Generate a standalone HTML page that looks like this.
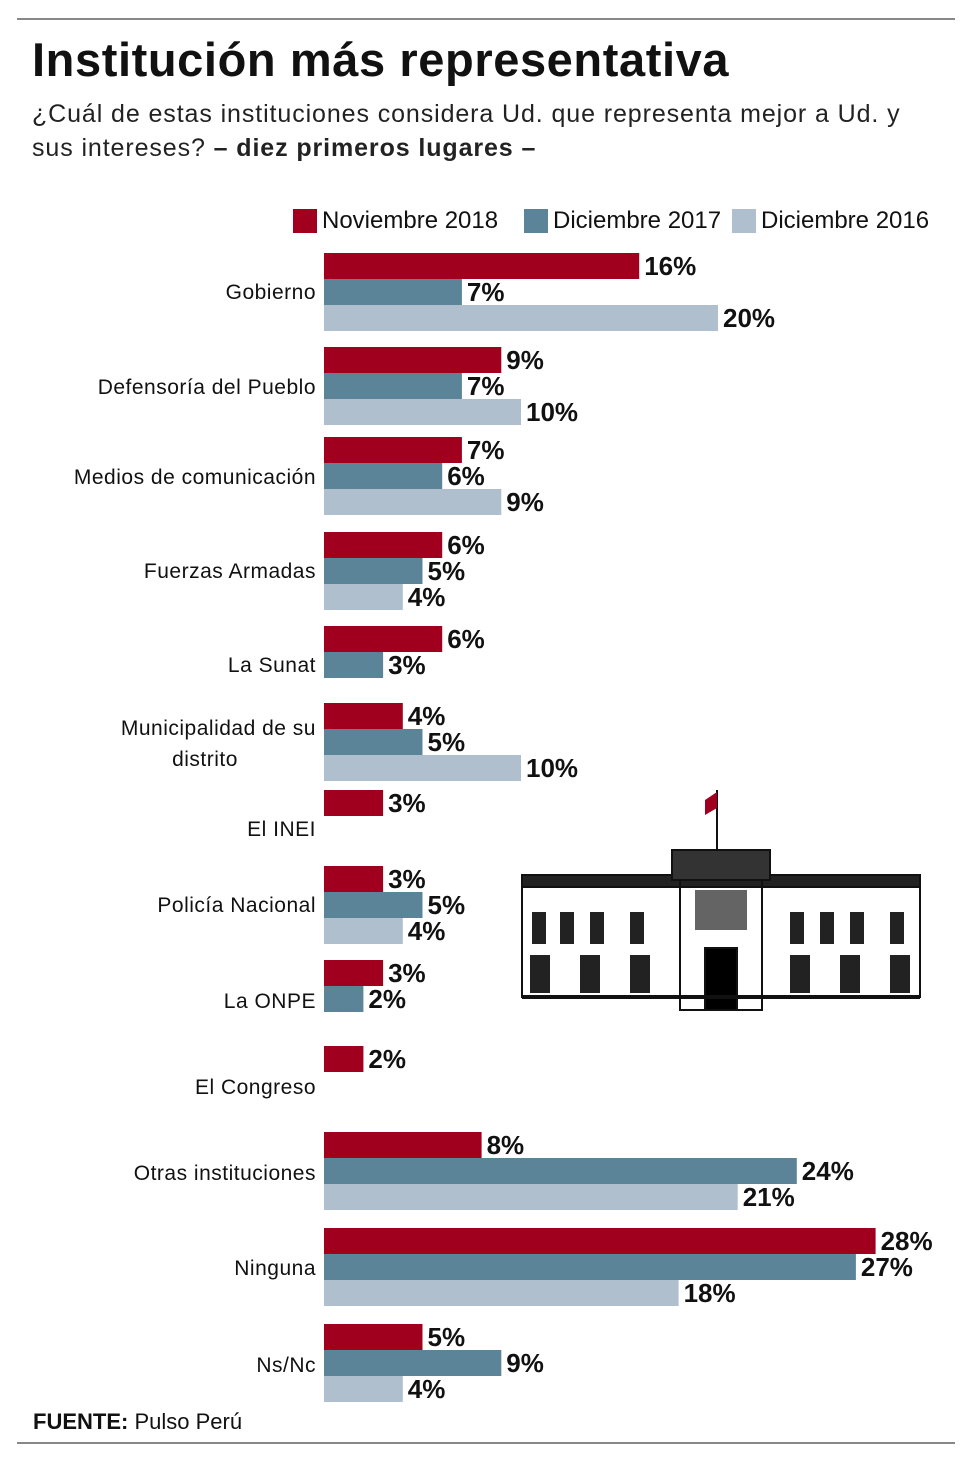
<!DOCTYPE html>
<html><head><meta charset="utf-8"><style>
body{margin:0;background:#fff;font-family:"Liberation Sans",sans-serif;}
#wrap{position:relative;width:980px;height:1473px;overflow:hidden;}
.t{position:absolute;white-space:nowrap;color:#111;}
</style></head><body>
<div id="wrap">
<div style="position:absolute;left:17px;top:18px;width:938px;height:2px;background:#888"></div>
<div class="t" style="left:32px;top:32px;font-size:47px;font-weight:bold;letter-spacing:0.6px">Institución más representativa</div>
<div class="t" style="left:32px;top:97px;font-size:25px;line-height:34px;color:#222;letter-spacing:0.9px">¿Cuál de estas instituciones considera Ud. que representa mejor a Ud. y<br>sus intereses? <b>– diez primeros lugares –</b></div>
<div>
<div style="position:absolute;left:293px;top:209px;width:24px;height:24px;background:#a0001e"></div>
<div class="t" style="left:322px;top:207px;font-size:24px">Noviembre 2018</div>
<div style="position:absolute;left:524px;top:209px;width:24px;height:24px;background:#5b8499"></div>
<div class="t" style="left:553px;top:207px;font-size:24px">Diciembre 2017</div>
<div style="position:absolute;left:732px;top:209px;width:24px;height:24px;background:#afbfcd"></div>
<div class="t" style="left:761px;top:207px;font-size:24px">Diciembre 2016</div>
</div>
<svg id="chart" width="980" height="1473" style="position:absolute;left:0;top:0"></svg>
<svg width="980" height="1473" style="position:absolute;left:0;top:0">
<g fill="none" stroke="#111" stroke-width="2">
<line x1="717" y1="790" x2="717" y2="850"/>
<rect x="522" y="875" width="398" height="12" fill="#222"/>
<rect x="522" y="887" width="398" height="110"/>
<rect x="672" y="850" width="98" height="30" fill="#333"/>
<rect x="680" y="880" width="82" height="130"/>
<rect x="705" y="948" width="32" height="62" fill="#000"/>
<line x1="522" y1="997" x2="920" y2="997" stroke-width="4"/>
</g>
<polygon points="717,792 705,800 705,815 717,808" fill="#a0001e"/>
<g fill="#222">
<rect x="532" y="912" width="14" height="32"/><rect x="560" y="912" width="14" height="32"/><rect x="590" y="912" width="14" height="32"/><rect x="630" y="912" width="14" height="32"/>
<rect x="790" y="912" width="14" height="32"/><rect x="820" y="912" width="14" height="32"/><rect x="850" y="912" width="14" height="32"/><rect x="890" y="912" width="14" height="32"/>
<rect x="530" y="955" width="20" height="38"/><rect x="580" y="955" width="20" height="38"/><rect x="630" y="955" width="20" height="38"/>
<rect x="790" y="955" width="20" height="38"/><rect x="840" y="955" width="20" height="38"/><rect x="890" y="955" width="20" height="38"/>
<rect x="695" y="890" width="52" height="40" opacity=".7"/>
</g>
</svg>
<div class="t" style="left:33px;top:1409px;font-size:22px"><b>FUENTE:</b> Pulso Perú</div>
<div style="position:absolute;left:17px;top:1442px;width:938px;height:2px;background:#888"></div>
</div>
<script>
const categories=["Gobierno","Defensoría del Pueblo","Medios de comunicación","Fuerzas Armadas","La Sunat","Municipalidad de su|distrito","El INEI","Policía Nacional","La ONPE","El Congreso","Otras instituciones","Ninguna","Ns/Nc"];
const nov2018=[16,9,7,6,6,4,3,3,3,2,8,28,5];
const dic2017=[7,7,6,5,3,5,null,5,2,null,24,27,9];
const dic2016=[20,10,9,4,null,10,null,4,null,null,21,18,4];
const groupTops=[253,347,437,532,626,703,790,866,960,1046,1132,1228,1324];
const labelY=[291,386,476,570,664,727,828,904,1000,1086,1172,1267,1364];
const x0=324,pxPer=19.7,bh=26;
const xs=v=>x0+v*pxPer;
const svg=document.getElementById('chart');
const NS='http://www.w3.org/2000/svg';
const series=[[nov2018,'#a0001e','nov-2018'],[dic2017,'#5b8499','dic-2017'],[dic2016,'#afbfcd','dic-2016']];
categories.forEach((c,i)=>{
  let row=0;
  series.forEach(([arr,col,nm])=>{
    const v=arr[i];
    if(v==null)return;
    const y=groupTops[i]+row*bh;row++;
    const r=document.createElementNS(NS,'rect');
    r.setAttribute('x',x0);r.setAttribute('y',y);r.setAttribute('width',xs(v)-x0);r.setAttribute('height',bh);r.setAttribute('fill',col);
    
    
    svg.appendChild(r);
    const t=document.createElementNS(NS,'text');
    t.setAttribute('x',xs(v)+5);t.setAttribute('y',y+bh/2+9);t.setAttribute('font-size','26');t.setAttribute('font-weight','bold');t.setAttribute('fill','#111');
    t.setAttribute('font-family','Liberation Sans, sans-serif');
    t.textContent=v+'%';
    
    
    svg.appendChild(t);
  });
  const parts=c.split('|');
  parts.forEach((p,k)=>{
    const t=document.createElementNS(NS,'text');
    const ml=parts.length>1;
    t.setAttribute('x',ml&&k==1?205:316);
    t.setAttribute('text-anchor',ml&&k==1?'middle':'end');
    t.setAttribute('y',labelY[i]+8+k*31);
    t.setAttribute('font-size','21');t.setAttribute('fill','#111');
    t.setAttribute('letter-spacing','0.5');
    t.setAttribute('font-family','Liberation Sans, sans-serif');
    t.textContent=p;
    
    
    svg.appendChild(t);
  });
});
</script>
</body></html>
